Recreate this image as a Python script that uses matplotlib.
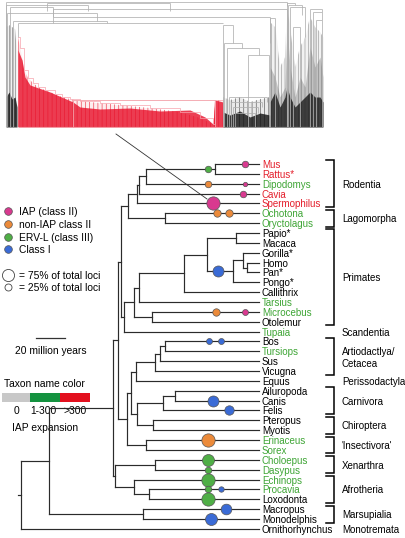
import matplotlib
matplotlib.use("Agg")
import matplotlib.pyplot as plt
from matplotlib.collections import LineCollection

plt.rcParams['font.family'] = ['Liberation Sans', 'DejaVu Sans']
plt.rcParams['hatch.linewidth'] = 0.45

# -------------------------
# Species tree (node ages in million years, leaves are taxon names)
# -------------------------
tree = (164, [
    (145, [
        (101, [
            (97, [
                (95, [
                    (90, [
                        (84, [(83, [(78, [(30, ["Mus", "Rattus*"]), "Dipodomys"]), "Cavia"]),
                              "Spermophilus"]),
                        (65, ["Ochotona", "Oryctolagus"])]),
                    (93, [
                        (86, [
                            (83, [(52, [(36, [(16, ["Papio*", "Macaca"]),
                                              (18, [(11, ["Gorilla*", (8, ["Homo", "Pan*"])]),
                                                    "Pongo*"])]),
                                        "Callithrix"]),
                                  "Tarsius"]),
                            (74, ["Microcebus", "Otolemur"])]),
                        "Tupaia"])]),
                (91, [
                    (88, [
                        (85, [(72, [(68, [(65, ["Bos", "Tursiops"]), "Sus"]), "Vicugna"]),
                              "Equus"]),
                        (84, [(66, [(58, ["Ailuropoda", "Canis"]), "Felis"]),
                              (73, ["Pteropus", "Myotis"])])]),
                    (78, ["Erinaceus", "Sorex"])])]),
            (99, [
                (72, ["Choloepus", "Dasypus"]),
                (86, ["Echinops", (76, ["Procavia", "Loxodonta"])])])]),
        (80, ["Macropus", "Monodelphis"])]),
    "Ornithorhynchus"])

red_names = ["Mus", "Rattus*", "Cavia", "Spermophilus"]
green_names = ["Dipodomys", "Ochotona", "Oryctolagus", "Tarsius", "Microcebus", "Tupaia",
               "Tursiops", "Erinaceus", "Sorex", "Choloepus", "Dasypus", "Echinops", "Procavia"]

# ERV markers: (branch, age along branch, class, fraction of total loci)
markers = [
    ("Mus|Rattus*", 35, "ERV-L", 0.22), ("Mus", 9.7, "IAP", 0.22),
    ("Dipodomys", 35, "nonIAP", 0.22), ("Dipodomys", 9.7, "IAP", 0.10),
    ("Cavia", 11.3, "IAP", 0.22), ("Spermophilus", 31.5, "IAP", 0.9),
    ("Ochotona", 28.7, "nonIAP", 0.28), ("Ochotona", 20.7, "nonIAP", 0.28),
    ("Gorilla*|Pongo*", 28, "ClassI", 0.62),
    ("Microcebus", 29.6, "nonIAP", 0.28), ("Microcebus", 9.7, "IAP", 0.18),
    ("Bos", 34.5, "ClassI", 0.18), ("Bos", 26.2, "ClassI", 0.18),
    ("Canis", 32, "ClassI", 0.62), ("Felis", 20.5, "ClassI", 0.45),
    ("Erinaceus", 35.4, "nonIAP", 0.9),
    ("Choloepus", 35.4, "ERV-L", 0.73), ("Dasypus", 35.4, "ERV-L", 0.22),
    ("Echinops", 35.4, "ERV-L", 0.9), ("Procavia", 35.4, "ERV-L", 0.22),
    ("Procavia", 26.2, "ClassI", 0.15), ("Loxodonta", 35.4, "ERV-L", 0.9),
    ("Macropus", 23, "ClassI", 0.58), ("Monodelphis", 33, "ClassI", 0.73),
]

class_colors = {"IAP": "#d8398f", "nonIAP": "#eb8a3a", "ERV-L": "#4fae46", "ClassI": "#3a6bd6"}
class_labels = [("IAP", "IAP (class II)"), ("nonIAP", "non-IAP class II"),
                ("ERV-L", "ERV-L (class III)"), ("ClassI", "Class I")]

# clade brackets: (label, first taxon, last taxon, bracket)
clades = [
    ("Rodentia", "Mus", "Spermophilus", True),
    ("Lagomorpha", "Ochotona", "Oryctolagus", True),
    ("Primates", "Papio*", "Otolemur", True),
    ("Scandentia", "Tupaia", "Tupaia", False),
    ("Artiodactlya/\nCetacea", "Bos", "Vicugna", True),
    ("Perissodactyla", "Equus", "Equus", False),
    ("Carnivora", "Ailuropoda", "Felis", True),
    ("Chiroptera", "Pteropus", "Myotis", True),
    ("'Insectivora'", "Erinaceus", "Sorex", True),
    ("Xenarthra", "Choloepus", "Dasypus", True),
    ("Afrotheria", "Echinops", "Loxodonta", True),
    ("Marsupialia", "Macropus", "Monodelphis", True),
    ("Monotremata", "Ornithorhynchus", "Ornithorhynchus", False),
]

name_bins = ["0", "1-300", ">300"]
name_bin_colors = ["#c8c8c8", "#14923f", "#e3101e"]

# -------------------------
# IAP gene tree (top): skeleton links (x_left, x_right, height, left_drop, right_drop)
# -------------------------
gene_links = [
    (6, 287, 125, 0, 121), (47, 170, 124, 116, 116), (6, 88, 122, 0, 116),
    (10, 53, 120, 0, 110), (53, 287, 118, 110, 0), (7, 97, 114, 0, 106),
    (53, 270, 110, 104, 84), (13, 107, 106, 0, 104), (18, 223, 104, 90, 104),
    (223, 233, 102, 0, 84), (224, 242, 84, 0, 79), (227, 259, 79, 0, 72),
    (248, 269, 72, 0, 0), (229, 267, 30, 0, 25), (231, 262, 25, 0, 20),
    (233, 258, 20, 0, 14), (235, 255, 14, 0, 0),
    (287, 295, 124, 0, 122), (288, 302, 122, 0, 112), (290, 305, 120, 0, 90),
    (310, 322, 118, 0, 115), (313, 322, 115, 0, 107), (316, 322, 107, 0, 0),
    (270, 275, 109, 0, 0), (293, 300, 100, 0, 0),
]
red_link = (73, 215, 27, 0, 0)

left_x = [6, 9, 12, 15, 17]
left_top = [100, 102, 100, 98, 75]
left_dense = [30, 35, 28, 30, 20]

red_x = [18, 20, 24, 28, 33, 38, 45, 55, 62, 70, 80, 100, 120, 150, 180, 200, 213, 215, 222, 223]
red_top = [90, 79, 57, 49, 44, 40, 37, 33, 30, 28, 26, 24, 22, 19, 15, 9, 3, 27, 27, 0]
red_dense_x = [18, 22, 25, 30, 50, 73, 80, 100, 130, 160, 190, 205, 213, 215, 223]
red_dense = [77, 67, 50, 42, 35, 25, 20, 18, 19, 16, 17, 10, 3, 27, 25]

mid_x = [223, 230, 240, 250, 260, 270]
mid_top = [30, 27, 30, 25, 28, 30]
mid_dense = [15, 12, 16, 10, 14, 12]

right_x = [270, 275, 280, 285, 287, 290, 295, 300, 305, 310, 315, 320, 323]
right_top = [105, 100, 60, 70, 120, 100, 60, 80, 90, 110, 100, 95, 90]
right_mid = [60, 50, 30, 40, 100, 60, 30, 50, 40, 80, 60, 70, 50]
right_dense = [25, 35, 20, 30, 40, 30, 20, 25, 30, 35, 30, 30, 25]

# -------------------------
# Figure / scales
# -------------------------
W, H = 406, 538
TIP_PX, PX_PER_MY = 259, 1.45
FIRST_PX, ROW_PX = 164, 9.86

fig = plt.figure(figsize=(W / 100, H / 100), dpi=100)

ax = fig.add_axes([0, 0, 1, 1])          # page coordinates (pixels)
ax.set_xlim(0, W)
ax.set_ylim(H, 0)
ax.axis("off")

axt = fig.add_axes([0, 0, 1, 1])         # species tree: age (My) vs taxon row
axt.set_xlim(TIP_PX / PX_PER_MY, (TIP_PX - W) / PX_PER_MY)
axt.set_ylim((H - FIRST_PX) / ROW_PX, -FIRST_PX / ROW_PX)
axt.axis("off")
axt.patch.set_alpha(0)


def age_at(px):
    return (TIP_PX - px) / PX_PER_MY


def row_at(py):
    return (py - FIRST_PX) / ROW_PX


# layout of tree
leaf_row = {}
nodes = []
segs = []


def layout(node):
    if isinstance(node, str):
        leaf_row[node] = len(leaf_row)
        return 0.0, leaf_row[node], [node]
    age, kids = node
    res = [layout(k) for k in kids]
    y = (res[0][1] + res[-1][1]) / 2
    segs.append([(age, res[0][1]), (age, res[-1][1])])
    for ka, ky, kl in res:
        segs.append([(age, ky), (ka, ky)])
    leaves = [l for r in res for l in r[2]]
    nodes.append((set(leaves), age, y))
    return age, y, leaves


root_age, root_y, taxa = layout(tree)
segs.append([(root_age + 2, root_y), (root_age, root_y)])
axt.add_collection(LineCollection(segs, colors="#2b2b2b", linewidths=0.85, capstyle="projecting"))


def branch_row(branch):
    if "|" not in branch:
        return leaf_row[branch]
    a, b = branch.split("|")
    best = min((n for n in nodes if a in n[0] and b in n[0]), key=lambda n: len(n[0]))
    return best[2]


def marker_size(frac):
    r = 7 * frac ** 0.5           # radius in pixels
    return (2 * r * 0.72) ** 2


for br, age, cls, frac in markers:
    axt.scatter(age, branch_row(br), s=marker_size(frac), color=class_colors[cls],
                edgecolors="#555555", linewidths=0.5, zorder=3)

for name in taxa:
    col = "#e41e2b" if name in red_names else ("#3ea535" if name in green_names else "black")
    axt.text(age_at(262), leaf_row[name], name, color=col, fontsize=7.0,
             ha="left", va="center_baseline")

for label, a, b, bracket in clades:
    y0, y1 = leaf_row[a], leaf_row[b]
    if bracket:
        xb, xi = age_at(334), age_at(326)
        axt.plot([xi, xb, xb, xi], [y0 - 0.36, y0 - 0.36, y1 + 0.36, y1 + 0.36],
                 color="black", lw=1.1, solid_joinstyle="miter")
    axt.text(age_at(342), (y0 + y1) / 2, label, fontsize=7.0, ha="left",
             va="center_baseline", linespacing=1.25)

# scale bar
axt.plot([age_at(36), age_at(36) - 20], [row_at(338)] * 2, color="#333333", lw=0.9)
ax.text(51, 350, "20 million years", fontsize=7.4, ha="center", va="center_baseline")

# legend: ERV classes
for i, (key, lab) in enumerate(class_labels):
    yy = 211 + 12.8 * i
    ax.scatter(8, yy, s=marker_size(0.3), color=class_colors[key],
               edgecolors="#555555", linewidths=0.5)
    ax.text(19, yy, lab, fontsize=7.4, ha="left", va="center_baseline")

for i, frac in enumerate([0.75, 0.25]):
    yy = 275 + 12 * i
    ax.scatter(8, yy, s=marker_size(frac), color="white", edgecolors="#444444", linewidths=0.6)
    ax.text(19, yy, "= %d%% of total loci" % round(frac * 100), fontsize=7.4,
            ha="left", va="center_baseline")

# legend: taxon name colour
ax.text(4, 383, "Taxon name color", fontsize=7.4, ha="left", va="center_baseline")
ax.barh(397.5, [28, 30, 30], left=[2, 30, 60], height=9, color=name_bin_colors)
for lab, xc in zip(name_bins, [17, 43, 75]):
    ax.text(xc, 410, lab, fontsize=7.4, ha="center", va="center_baseline")
ax.text(12, 427, "IAP expansion", fontsize=7.4, ha="left", va="center_baseline")

# connector from gene tree to Spermophilus node
ax.plot([116, 207], [134, 199], color="#333333", lw=0.6)

# -------------------------
# IAP gene tree
# -------------------------
axg = fig.add_axes([5 / W, 1 - 127 / H, 318 / W, 125 / H])
axg.set_xlim(5, 323)
axg.set_ylim(0, 125)
axg.axis("off")
axg.patch.set_alpha(0)


def bush(x, top, color, alpha, hatch_color=None, hatch=None):
    axg.fill_between(x, 0, top, color=color, alpha=alpha, lw=0)
    if hatch:
        axg.fill_between(x, 0, top, facecolor="none", edgecolor=hatch_color, hatch=hatch, lw=0)


bush(left_x, left_top, "#aaaaaa", 0.15, "#777777", "||||||")
bush(left_x, left_dense, "#111111", 0.8)

bush(red_x, red_top, "#f25060", 0.10, "#ee3448", "||||")
bush(red_dense_x, red_dense, "#e8102a", 0.8)
axg.step(red_x, red_top, where="post", color="#f7a3ad", lw=0.5)

bush(mid_x, mid_top, "#999999", 0.2, "#555555", "||||")
bush(mid_x, mid_dense, "#111111", 0.8)

bush(right_x, right_top, "#cccccc", 0.25, "#999999", "|||||")
bush(right_x, right_mid, "#555555", 0.3)
bush(right_x, right_dense, "#111111", 0.75)

gsegs = []
for xl, xr, h, hl, hr in gene_links:
    gsegs += [[(xl, h), (xr, h)], [(xl, h), (xl, hl)], [(xr, h), (xr, hr)]]
axg.add_collection(LineCollection(gsegs, colors="#b0b0b0", linewidths=0.55))
xl, xr, h, hl, hr = red_link
axg.add_collection(LineCollection([[(xl, h), (xr, h)], [(xl, h), (xl, hl)], [(xr, h), (xr, hr)]],
                                  colors="#f3a0a8", linewidths=0.6))
axg.plot([5, 323], [0, 0], color="#bbbbbb", lw=0.8)

fig.savefig("out.png", dpi=100)
